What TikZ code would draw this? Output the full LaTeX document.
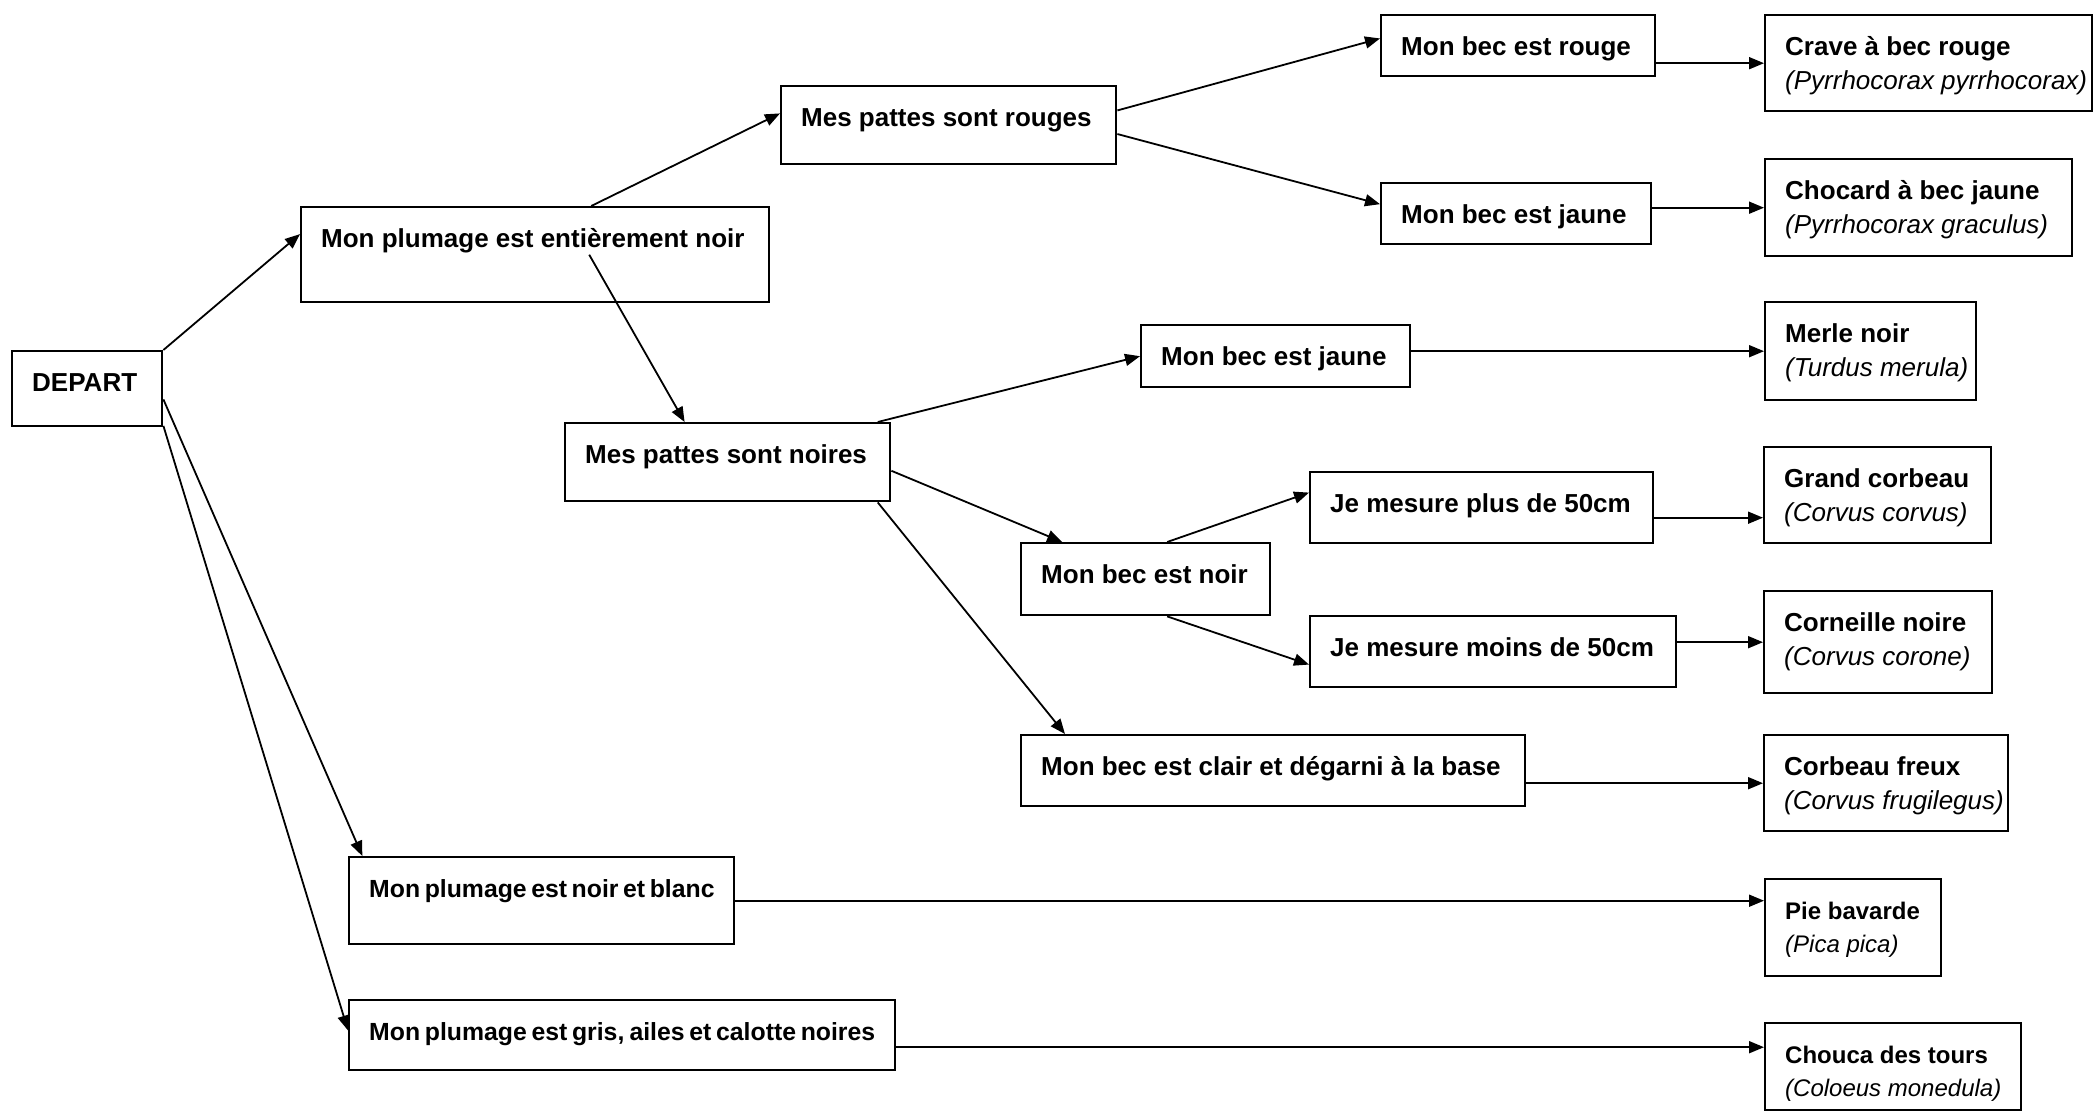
\documentclass[tikz,border=0pt]{standalone}
\usepackage{fontspec}
\setmainfont{Liberation Sans}
\usetikzlibrary{arrows.meta}

\newcommand\bird[2]{\begin{tabular}[t]{@{}l@{}}#1\\{\mdseries\itshape(#2)}\end{tabular}}

\begin{document}
\begin{tikzpicture}[x=0.5pt, y=-0.5pt]
    \tikzset{
      >={Triangle[length=7.5pt, width=6pt]},
      every edge/.append style={->, line width=0.9pt},
      box/.style 2 args={draw, line width=1.2pt, anchor=north west,
        inner xsep=10pt, inner ysep=0pt,
        font=\bfseries\fontsize{13}{17.3}\selectfont,
        /utils/exec={\pgfmathsetmacro\boxw{(#1-40)/2}\pgfmathsetmacro\boxd{(#2-40)/2}},
        execute at begin node={\hbox to \boxw pt\bgroup},
        execute at end node={\hfil\egroup},
        text height=20pt, text depth=\boxd pt},
      smalltext/.style={font=\bfseries\fontsize{#1}{16.8}\selectfont},
    }
    \useasboundingbox (0,0) rectangle (2098,1112);

    \node[box={150}{75}] (dep) at (11,350) {DEPART};
    \node[box={468}{95}] (p1) at (300,206) {Mon plumage est entièrement noir};
    \node[box={335}{78}] (pr) at (780,85) {Mes pattes sont rouges};
    \node[box={274}{61}] (br) at (1380,14) {Mon bec est rouge};
    \node[box={270}{61}] (bj1) at (1380,182) {Mon bec est jaune};
    \node[box={327}{96}] (cr) at (1764,14) {\bird{Crave à bec rouge}{Pyrrhocorax pyrrhocorax}};
    \node[box={307}{97}] (cj) at (1764,158) {\bird{Chocard à bec jaune}{Pyrrhocorax graculus}};
    \node[box={325}{78}] (pn) at (564,422) {Mes pattes sont noires};
    \node[box={269}{62}] (bj2) at (1140,324) {Mon bec est jaune};
    \node[box={211}{98}] (merle) at (1764,301) {\bird{Merle noir}{Turdus merula}};
    \node[box={249}{72}] (bn) at (1020,542) {Mon bec est noir};
    \node[box={343}{71}] (jp) at (1309,471) {Je mesure plus de 50cm};
    \node[box={366}{71}] (jm) at (1309,615) {Je mesure moins de 50cm};
    \node[box={227}{96}] (gc) at (1763,446) {\bird{Grand corbeau}{Corvus corvus}};
    \node[box={228}{102}] (cn) at (1763,590) {\bird{Corneille noire}{Corvus corone}};
    \node[box={504}{71}] (bc) at (1020,734) {Mon bec est clair et dégarni à la base};
    \node[box={244}{96}] (cf) at (1763,734) {\bird{Corbeau freux}{Corvus frugilegus}};
    \node[box={385}{87}, smalltext=12.4] (nb) at (348,856) {Mon plumage est noir et blanc};
    \node[box={176}{97}, smalltext=12] (pie) at (1764,878) {\bird{Pie bavarde}{Pica pica}};
    \node[box={546}{70}, smalltext=12.4] (gr) at (348,999) {Mon plumage est gris, ailes et calotte noires};
    \node[box={256}{87}, smalltext=12] (chouca) at (1764,1022) {\bird{Chouca des tours}{Coloeus monedula}};

    \coordinate (jpout) at ([yshift=-5pt]jp.east);
    \coordinate (grout) at ([yshift=-6pt]gr.east);

    \draw
      (dep.north east) edge (p1.175)
      (dep.-8) edge (nb.166)
      (dep.-26) edge (gr.179)
      (p1.41) edge (pr.176)
      ([xshift=27pt]p1.center) edge (pn.137)
      (pr.5) edge (br.177)
      (pr.-3) edge (bj1.176)
      (br.east |- cr.west) edge (cr)
      (bj1.east |- cj.west) edge (cj)
      (pn.15) edge (bj2.west)
      (pn.-3) edge (bn.156)
      (pn.-15) edge (bc.170)
      (bj2.east |- merle.west) edge (merle)
      (bn.60) edge (jp.175)
      (bn.-60) edge (jm.184)
      (jpout) edge (jpout -| gc.west)
      (jm.east |- cn.west) edge (cn)
      (bc.east |- cf.west) edge (cf)
      (nb.east) edge (nb.east -| pie.west)
      (grout) edge (grout -| chouca.west);
  \end{tikzpicture}
\end{document}
